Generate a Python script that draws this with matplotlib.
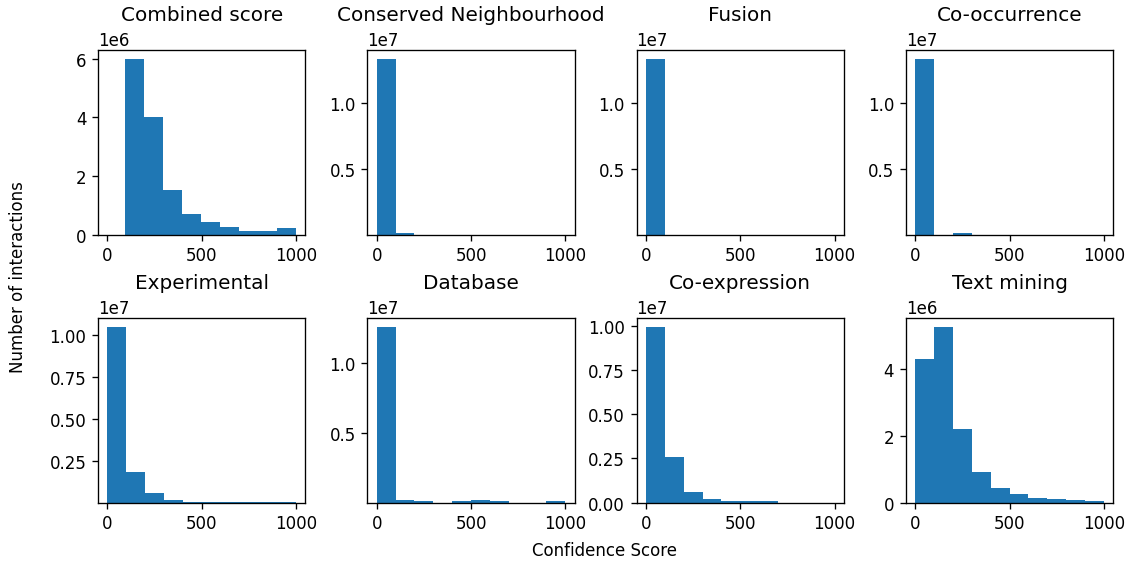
import numpy as np
import matplotlib
matplotlib.use("Agg")
import matplotlib.pyplot as plt

titles = ["Combined score", "Conserved Neighbourhood", "Fusion", "Co-occurrence",
          "Experimental", "Database", "Co-expression", "Text mining"]

# bin edges (confidence score)
combined_edges = [93, 194, 295, 395, 496, 597, 698, 798, 899, 1000]
score_edges = [0, 100, 200, 300, 400, 500, 600, 700, 800, 900, 1000]

# counts per bin (number of interactions)
combined = [6.0e6, 4.02e6, 1.52e6, 0.72e6, 0.44e6, 0.27e6, 0.14e6, 0.14e6, 0.22e6]
neighbourhood = [1.3375e7, 1.2e5, 5e3, 2e3, 1e3, 1e3, 1e3, 1e3, 1e3, 1e3]
fusion = [1.3375e7, 5e3, 2e3, 1e3, 1e3, 1e3, 1e3, 1e3, 1e3, 1e3]
cooccurrence = [1.3375e7, 8e3, 1.25e5, 5e3, 2e3, 1e3, 1e3, 1e3, 1e3, 1e3]
experimental = [1.05e7, 1.81e6, 5.8e5, 1.8e5, 6e4, 6e4, 5e4, 5e4, 5e4, 5e4]
database = [1.262e7, 2.1e5, 1.0e5, 1.5e4, 1.0e5, 1.9e5, 1.0e5, 1.5e4, 1.5e4, 1.0e5]
coexpression = [9.95e6, 2.56e6, 5.8e5, 2.1e5, 9e4, 9e4, 9e4, 0, 0, 0]
textmining = [4.28e6, 5.25e6, 2.18e6, 0.92e6, 0.43e6, 0.26e6, 0.14e6, 0.11e6, 0.07e6, 0.06e6]

counts = [combined, neighbourhood, fusion, cooccurrence,
          experimental, database, coexpression, textmining]
edges = [combined_edges] + [score_edges] * 7
# panels whose y axis does not start at zero in the original
no_zero = [False, True, True, True, True, True, False, False]

fig, axes = plt.subplots(2, 4, figsize=(9.4, 4.7083), dpi=120)
fig.subplots_adjust(left=0.0869, right=0.987, top=0.9097, bottom=0.1088,
                    wspace=0.298, hspace=0.45)

for ax, title, c, e, nz in zip(axes.flat, titles, counts, edges, no_zero):
    e = np.array(e)
    ax.hist(e[:-1], bins=e, weights=c, color="#1f77b4")
    ax.set_title(title, pad=18)
    ax.set_xlim(-50, 1050)
    ax.set_xticks([0, 500, 1000])
    if nz:
        ax.set_ylim(bottom=2e4)

fig.text(0.536, 0.025, "Confidence Score", ha="center", va="center", fontsize=10)
fig.text(0.016, 0.51, "Number of interactions", ha="center", va="center",
         rotation=90, fontsize=10)

plt.savefig("out.png")
plt.close()
